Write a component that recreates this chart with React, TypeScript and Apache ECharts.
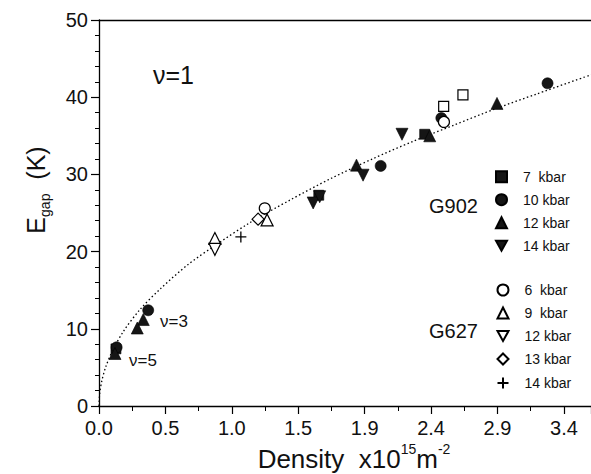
import React, { useEffect, useRef } from "react";
import * as echarts from "echarts";

// Dotted guide curve
const curveX = [0, 0.005, 0.02, 0.05, 0.1, 0.18, 0.3, 0.45, 0.65, 0.85, 1.1, 1.4, 1.7, 2.0, 2.3, 2.6, 2.9, 3.2, 3.6];
const curveY = [0, 1.6, 3.2, 5.1, 7.2, 9.7, 12.5, 15.2, 18.3, 20.8, 23.7, 26.7, 29.5, 32.0, 34.3, 36.4, 38.5, 40.4, 42.9];

// G902 (filled symbols)
const g902_7kbar = [[2.383, 35.2], [1.608, 27.3], [0.124, 7.4]];
const g902_10kbar = [[3.282, 41.8], [2.061, 31.1], [2.505, 37.3], [0.36, 12.4], [0.129, 7.6]];
const g902_12kbar = [[2.912, 39.2], [2.42, 35.0], [1.884, 31.2], [0.324, 11.2], [0.28, 10.1], [0.117, 6.8]];
const g902_14kbar = [[2.217, 35.2], [1.932, 29.9], [1.567, 26.3], [1.615, 27.1]];

// G627 (open symbols)
const g627_6kbar = [[2.524, 36.8], [1.213, 25.6]];
const g627_9kbar = [[1.23, 24.1], [0.848, 21.7]];
const g627_12kbar = [[0.848, 20.3]];
const g627_13kbar = [[1.164, 24.2]];
const g627_14kbar = [[1.038, 21.9]];

// extra open squares (not in legend)
const openSquares = [[2.663, 40.3], [2.522, 38.8]];

const xTickInterval = 0.486;
const yTicks = [0, 10, 20, 30, 40, 50];

const FONT = "'Liberation Sans', Arial, Helvetica, sans-serif";
const FILL = "#151515";
const DOWN_TRI = "path://M0,0 L10,0 L5,9 Z";
const PLUS = "path://M5,0 L5,10 M0,5 L10,5";

export default function App() {
  const ref = useRef<HTMLDivElement>(null);
  useEffect(() => {
    if (!ref.current) return;
    const chart = echarts.init(ref.current, undefined, { renderer: "svg" });

    const filled = (name: string, data: number[][], symbol: string, size: number) => ({
      type: "scatter",
      name,
      data,
      symbol,
      symbolSize: size,
      itemStyle: { color: FILL, borderColor: "#000", borderWidth: 0.6, opacity: 1 },
      z: 4,
    });
    const open = (name: string, data: number[][], symbol: string, size: number) => ({
      type: "scatter",
      name,
      data,
      symbol,
      symbolSize: size,
      itemStyle: { color: "#fff", borderColor: "#000", borderWidth: 1.2, opacity: 1 },
      z: 5,
    });

    const legendCommon = {
      orient: "vertical",
      itemWidth: 11,
      itemHeight: 11,
      itemGap: 9,
      selectedMode: false,
      textStyle: { fontSize: 14, lineHeight: 14, color: "#111", fontFamily: FONT, padding: [0, 0, 0, 11] },
    };

    const option: any = {
      animation: false,
      backgroundColor: "#fff",
      grid: { left: 99, top: 20, right: 0, bottom: 68 },
      xAxis: [
        {
          type: "value",
          min: 0,
          max: 3.6,
          interval: xTickInterval,
          axisLine: { lineStyle: { color: "#000", width: 1.3 } },
          axisTick: { length: 8, lineStyle: { color: "#000", width: 1.2 } },
          minorTick: { show: true, splitNumber: 2, length: 5, lineStyle: { color: "#000", width: 1 } },
          splitLine: { show: false },
          axisLabel: {
            formatter: (v: number) => v.toFixed(1),
            showMaxLabel: false,
            margin: 12,
            fontSize: 20,
            color: "#111",
            fontFamily: FONT,
          },
        },
        {
          type: "value",
          position: "top",
          min: 0,
          max: 3.6,
          axisLine: { show: true, onZero: false, lineStyle: { color: "#000", width: 1.3 } },
          axisTick: { show: false },
          axisLabel: { show: false },
          splitLine: { show: false },
        },
      ],
      yAxis: {
        type: "value",
        min: yTicks[0],
        max: yTicks[yTicks.length - 1],
        interval: 10,
        axisLine: { show: true, lineStyle: { color: "#000", width: 1.3 } },
        axisTick: { show: true, length: 8, lineStyle: { color: "#000", width: 1.2 } },
        minorTick: { show: true, splitNumber: 5, length: 4, lineStyle: { color: "#000", width: 1 } },
        splitLine: { show: false },
        axisLabel: { margin: 11, fontSize: 20, color: "#111", fontFamily: FONT },
      },
      legend: [
        {
          ...legendCommon,
          left: 490,
          top: 164.7,
          data: ["7  kbar", "10 kbar", "12 kbar", "14 kbar"],
        },
        {
          ...legendCommon,
          left: 490,
          top: 278,
          data: ["6  kbar", "9  kbar", "12 kbar ", "13 kbar", "14 kbar "],
        },
      ],
      series: [
        {
          type: "line",
          name: "fit",
          data: curveX.map((x, i) => [x, curveY[i]]),
          smooth: 0.3,
          showSymbol: false,
          symbol: "none",
          lineStyle: { color: "#000", width: 1.3, type: [1.5, 2.5] },
          z: 2,
        },
        open("open squares", openSquares, "rect", 10),
        filled("7  kbar", g902_7kbar, "rect", 10),
        filled("10 kbar", g902_10kbar, "circle", 11),
        filled("12 kbar", g902_12kbar, "triangle", 12),
        filled("14 kbar", g902_14kbar, DOWN_TRI, 12),
        open("6  kbar", g627_6kbar, "circle", 11),
        open("9  kbar", g627_9kbar, "triangle", 12),
        open("12 kbar ", g627_12kbar, DOWN_TRI, 12),
        open("13 kbar", g627_13kbar, "diamond", 12),
        {
          type: "scatter",
          name: "14 kbar ",
          data: g627_14kbar,
          symbol: PLUS,
          symbolSize: 11,
          itemStyle: { color: "none", borderColor: "#000", borderWidth: 1.3, opacity: 1 },
          z: 5,
        },
      ],
      graphic: [
        {
          type: "text",
          left: 153,
          top: 62,
          style: { text: "ν=1", fontSize: 25, fill: "#111", fontFamily: FONT },
        },
        {
          type: "text",
          left: 160,
          top: 313,
          style: { text: "ν=3", fontSize: 17, fill: "#111", fontFamily: FONT },
        },
        {
          type: "text",
          left: 129,
          top: 352,
          style: { text: "ν=5", fontSize: 17, fill: "#111", fontFamily: FONT },
        },
        {
          type: "text",
          left: 429,
          top: 196,
          style: { text: "G902", fontSize: 20, fill: "#111", fontFamily: FONT },
        },
        {
          type: "text",
          left: 429,
          top: 321,
          style: { text: "G627", fontSize: 20, fill: "#111", fontFamily: FONT },
        },
        {
          type: "text",
          x: 33,
          y: 190,
          rotation: Math.PI / 2,
          style: {
            text: "{a|E}{s|gap}{a|  (K)}",
            align: "center",
            verticalAlign: "middle",
            fill: "#111",
            rich: {
              a: { fontSize: 25, fontFamily: FONT, fill: "#111", lineHeight: 30, verticalAlign: "bottom" },
              s: { fontSize: 14, fontFamily: FONT, fill: "#111", lineHeight: 30, verticalAlign: "bottom", padding: [0, 0, -4, 0] },
            },
          },
        },
        {
          type: "text",
          x: 354,
          y: 457,
          style: {
            text: "{a|Density  x10}{s|15}{a|m}{s|-2}",
            align: "center",
            verticalAlign: "middle",
            fill: "#111",
            rich: {
              a: { fontSize: 26, fontFamily: FONT, fill: "#111", lineHeight: 30, verticalAlign: "bottom" },
              s: { fontSize: 14, fontFamily: FONT, fill: "#111", lineHeight: 30, verticalAlign: "top" },
            },
          },
        },
      ],
    };

    chart.setOption(option);
    return () => chart.dispose();
  }, []);

  return (
    <div
      ref={ref}
      style={{ position: "absolute", left: 0, top: 0, width: 591, height: 474, background: "#fff" }}
    />
  );
}
